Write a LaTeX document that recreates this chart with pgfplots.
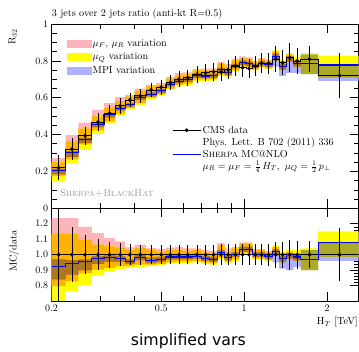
\documentclass[border=0pt]{standalone}
\usepackage{fontspec}
\newfontfamily\labelfont{DejaVu Sans}
\usepackage{pgfplots}
\pgfplotsset{compat=1.18}
\usepackage{pgfplotstable}
\usepgfplotslibrary{fillbetween}
\definecolor{cpink}{RGB}{255,180,185}
\definecolor{cyel}{RGB}{255,255,0}
\definecolor{cblu}{RGB}{176,176,255}
\definecolor{cpy}{RGB}{255,178,0}
\definecolor{cyb}{RGB}{172,170,40}
\definecolor{cpb}{RGB}{176,127,184}
\definecolor{cpyb}{RGB}{176,118,30}
\definecolor{cblue}{RGB}{0,0,255}

\pgfplotsset{
  pinkimg/.style={legend image code/.code={\fill[cpink] (0bp,-3.5bp) rectangle (24bp,3.5bp);}},
  yelimg/.style={legend image code/.code={\fill[cyel] (0bp,-3.5bp) rectangle (24bp,3.5bp);}},
  bluimg/.style={legend image code/.code={\fill[cblu] (0bp,-3.5bp) rectangle (24bp,3.5bp);}},
  dataimg/.style={legend image code/.code={\draw[black, line width=0.7bp] (0bp,0bp) -- (28bp,0bp); \fill[black] (14bp,0bp) circle[radius=1.7bp];}},
  mcimg/.style={legend image code/.code={\draw[cblue, line width=1bp] (0bp,0bp) -- (28bp,0bp);}},
}

% bin edges (const plot, value of bin to the right); mc and bands are MC/data
\pgfplotstableread{
e d mc yl yh pl ph bl bh
0.2   0.220 0.925 0.66  1.133 0.796 1.237 0.84  0.97
0.225 0.321 0.942 0.76  1.133 0.828 1.237 0.87  0.965
0.25  0.394 0.953 0.805 1.097 0.88  1.18  0.90  0.97
0.28  0.468 0.975 0.865 1.065 0.903 1.14  0.94  0.99
0.31  0.516 0.982 0.892 1.054 0.914 1.107 0.955 0.995
0.34  0.556 0.975 0.903 1.047 0.925 1.086 0.955 0.99
0.37  0.588 0.955 0.915 1.03  0.925 1.047 0.94  0.97
0.40  0.610 0.982 0.92  1.045 0.935 1.065 0.965 1.0
0.44  0.642 0.962 0.925 1.03  0.935 1.043 0.945 0.98
0.48  0.657 0.970 0.93  1.02  0.94  1.035 0.955 0.985
0.52  0.683 0.985 0.945 1.03  0.95  1.045 0.97  1.0
0.56  0.700 0.985 0.945 1.03  0.955 1.05  0.97  1.0
0.60  0.709 0.985 0.945 1.025 0.955 1.04  0.97  1.0
0.65  0.727 0.990 0.95  1.03  0.96  1.04  0.975 1.005
0.70  0.736 0.975 0.94  1.015 0.95  1.03  0.96  0.99
0.75  0.741 0.970 0.935 1.01  0.945 1.025 0.955 0.985
0.80  0.740 1.015 0.97  1.06  0.98  1.075 1.0   1.03
0.85  0.752 0.980 0.945 1.02  0.955 1.04  0.965 0.995
0.90  0.772 1.000 0.96  1.04  0.97  1.05  0.985 1.015
0.96  0.763 1.035 1.0   1.07  1.01  1.08  1.02  1.05
1.015 0.758 1.035 1.0   1.07  1.01  1.08  1.02  1.05
1.07  0.772 1.000 0.97  1.03  0.975 1.035 0.985 1.015
1.125 0.787 1.000 0.97  1.03  0.975 1.035 0.985 1.015
1.19  0.787 0.990 0.96  1.02  0.965 1.025 0.975 1.005
1.265 0.809 1.020 0.99  1.06  1.0   1.05  0.95  1.035
1.34  0.790 0.975 0.95  1.02  0.955 1.01  0.91  0.99
1.42  0.817 1.000 0.97  1.03  0.975 1.02  0.90  1.01
1.51  0.799 0.985 0.96  1.03  0.965 1.01  0.92  1.0
1.605 0.809 0.970 0.90  1.04  0.97  0.97  0.90  1.03
1.855 0.720 1.080 0.985 1.15  1.08  1.08  0.96  1.08
2.6   0.720 1.080 0.985 1.15  1.08  1.08  0.96  1.08
}\edges

\pgfplotstableread{
x d de r re
0.2121 0.220 0.068 1 0.31
0.2372 0.321 0.058 1 0.18
0.2646 0.394 0.049 1 0.125
0.2946 0.468 0.047 1 0.10
0.3247 0.516 0.044 1 0.085
0.3547 0.556 0.042 1 0.075
0.3847 0.588 0.040 1 0.068
0.4195 0.610 0.039 1 0.064
0.4596 0.642 0.040 1 0.062
0.4996 0.657 0.041 1 0.062
0.5396 0.683 0.042 1 0.062
0.5797 0.700 0.043 1 0.062
0.6245 0.709 0.044 1 0.062
0.6745 0.727 0.045 1 0.062
0.7246 0.736 0.047 1 0.064
0.7746 0.741 0.048 1 0.065
0.8246 0.740 0.049 1 0.066
0.8746 0.752 0.050 1 0.067
0.9295 0.772 0.052 1 0.068
0.9871 0.763 0.052 1 0.068
1.0421 0.758 0.053 1 0.070
1.0971 0.772 0.054 1 0.070
1.1570 0.787 0.055 1 0.070
1.2269 0.787 0.057 1 0.072
1.3020 0.809 0.069 1 0.085
1.3794 0.790 0.067 1 0.085
1.4643 0.817 0.079 1 0.097
1.5567 0.799 0.072 1 0.090
1.7255 0.809 0.070 1 0.086
2.22   0.720 0.122 1 0.17
}\pts

\begin{document}
\begin{tikzpicture}

\begin{axis}[
  scale only axis, width=306.9bp, height=184.3bp,
  at={(51.6bp,143.7bp)}, anchor=south west,
  xmode=log, xmin=0.2, xmax=2.6,
  axis line style={line width=0.8bp},
  major tick style={line width=0.6bp, black},
  minor tick style={line width=0.6bp, black},
  major tick length=9bp, minor tick length=5bp,
  xtick={0.2,0.5,1,2},
  minor xtick={0.3,0.4,0.6,0.7,0.8,0.9},
  ticklabel style={font=\fontsize{10}{12}\selectfont},
  ymin=0, ymax=1, ytick={0,0.2,0.4,0.6,0.8,1}, minor y tick num=3,
  xticklabels={},
  ylabel={R$_{32}$},
  ylabel style={at={(axis description cs:-0.127,0.93)}, anchor=center, font=\fontsize{10.2}{12}\selectfont},
  legend style={at={(axis description cs:0.049,0.93)}, anchor=north west,
    draw=none, fill=none, inner sep=0pt,
    font=\fontsize{10.2}{12}\selectfont,
    nodes={inner sep=1.5bp, text height=7.5bp, text depth=2.5bp},
    row sep=0.5bp},
  legend cell align=left,
]
% band edges (band = MC/data band times data)
\addplot[name path=ph, draw=none, const plot, forget plot] table[x=e, y expr=\thisrow{ph}*\thisrow{d}] {\edges};
\addplot[name path=pl, draw=none, const plot, forget plot] table[x=e, y expr=\thisrow{pl}*\thisrow{d}] {\edges};
\addplot[name path=yh, draw=none, const plot, forget plot] table[x=e, y expr=\thisrow{yh}*\thisrow{d}] {\edges};
\addplot[name path=yl, draw=none, const plot, forget plot] table[x=e, y expr=\thisrow{yl}*\thisrow{d}] {\edges};
\addplot[name path=bh, draw=none, const plot, forget plot] table[x=e, y expr=\thisrow{bh}*\thisrow{d}] {\edges};
\addplot[name path=bl, draw=none, const plot, forget plot] table[x=e, y expr=\thisrow{bl}*\thisrow{d}] {\edges};
% overlaps of the bands
\addplot[name path=pyl, draw=none, const plot, forget plot] table[x=e, y expr={max(\thisrow{pl},\thisrow{yl})*\thisrow{d}}] {\edges};
\addplot[name path=pyh, draw=none, const plot, forget plot] table[x=e, y expr={max(min(\thisrow{ph},\thisrow{yh}),max(\thisrow{pl},\thisrow{yl}))*\thisrow{d}}] {\edges};
\addplot[name path=ybl, draw=none, const plot, forget plot] table[x=e, y expr={max(\thisrow{bl},\thisrow{yl})*\thisrow{d}}] {\edges};
\addplot[name path=ybh, draw=none, const plot, forget plot] table[x=e, y expr={max(min(\thisrow{bh},\thisrow{yh}),max(\thisrow{bl},\thisrow{yl}))*\thisrow{d}}] {\edges};
\addplot[name path=pbl, draw=none, const plot, forget plot] table[x=e, y expr={max(\thisrow{pl},\thisrow{bl})*\thisrow{d}}] {\edges};
\addplot[name path=pbh, draw=none, const plot, forget plot] table[x=e, y expr={max(min(\thisrow{ph},\thisrow{bh}),max(\thisrow{pl},\thisrow{bl}))*\thisrow{d}}] {\edges};
\addplot[name path=al, draw=none, const plot, forget plot] table[x=e, y expr={max(\thisrow{pl},\thisrow{yl},\thisrow{bl})*\thisrow{d}}] {\edges};
\addplot[name path=ah, draw=none, const plot, forget plot] table[x=e, y expr={max(min(\thisrow{ph},\thisrow{yh},\thisrow{bh}),max(\thisrow{pl},\thisrow{yl},\thisrow{bl}))*\thisrow{d}}] {\edges};
\addplot[fill=cpink, draw=none, forget plot] fill between[of=ph and pl];
\addplot[fill=cyel, draw=none, forget plot] fill between[of=yh and yl];
\addplot[fill=cblu, draw=none, forget plot] fill between[of=bh and bl];
\addplot[fill=cpy, draw=none, forget plot] fill between[of=pyh and pyl];
\addplot[fill=cyb, draw=none, forget plot] fill between[of=ybh and ybl];
\addplot[fill=cpb, draw=none, forget plot] fill between[of=pbh and pbl];
\addplot[fill=cpyb, draw=none, forget plot] fill between[of=ah and al];
% MC and data histograms
\addplot[cblue, line width=1.1bp, const plot, forget plot] table[x=e, y expr=\thisrow{mc}*\thisrow{d}] {\edges};
\addplot[black, line width=0.8bp, const plot, forget plot] table[x=e, y=d] {\edges};
\addplot[black, only marks, mark=*, mark size=1.7bp, forget plot,
  error bars/.cd, y dir=both, y explicit, error mark=none,
  error bar style={line width=0.7bp, black}] table[x=x, y=d, y error=de] {\pts};
% legend
\addlegendimage{pinkimg}
\addlegendentry{$\mu_F$, $\mu_R$ variation}
\addlegendimage{yelimg}
\addlegendentry{$\mu_Q$ variation}
\addlegendimage{bluimg}
\addlegendentry{MPI variation}
\node[anchor=west, inner sep=0pt, text=black!40, font=\fontsize{10}{12}\selectfont] at (axis description cs:0.027,0.078) {\textsc{Sherpa+BlackHat}};
\end{axis}

\begin{axis}[
  scale only axis, width=306.9bp, height=92.7bp,
  at={(51.6bp,51bp)}, anchor=south west,
  xmode=log, xmin=0.2, xmax=2.6,
  axis line style={line width=0.8bp},
  major tick style={line width=0.6bp, black},
  minor tick style={line width=0.6bp, black},
  major tick length=9bp, minor tick length=5bp,
  xtick={0.2,0.5,1,2},
  minor xtick={0.3,0.4,0.6,0.7,0.8,0.9},
  ticklabel style={font=\fontsize{10}{12}\selectfont},
  ymin=0.7, ymax=1.3, ytick={0.8,0.9,1.0,1.1,1.2}, minor y tick num=4,
  yticklabel style={/pgf/number format/fixed, /pgf/number format/fixed zerofill, /pgf/number format/precision=1},
  xticklabels={0.2,0.5,1,2},
  ylabel={MC/data},
  ylabel style={at={(axis description cs:-0.1225,0.539)}, anchor=center, font=\fontsize{10.2}{12}\selectfont},
  xlabel={H$_T$ [TeV]},
  xlabel style={at={(axis description cs:0.998,-0.172)}, anchor=north east, inner sep=0pt, font=\fontsize{10.2}{12}\selectfont},
  legend style={at={(axis description cs:0.392,1.909)}, anchor=north west,
    draw=none, fill=none, inner sep=0pt,
    font=\fontsize{10.2}{12}\selectfont,
    nodes={inner sep=1.5bp, text height=7.5bp},
    row sep=0bp},
  legend cell align=left,
]
\addplot[name path=rph, draw=none, const plot, forget plot] table[x=e, y=ph] {\edges};
\addplot[name path=rpl, draw=none, const plot, forget plot] table[x=e, y=pl] {\edges};
\addplot[name path=ryh, draw=none, const plot, forget plot] table[x=e, y=yh] {\edges};
\addplot[name path=ryl, draw=none, const plot, forget plot] table[x=e, y=yl] {\edges};
\addplot[name path=rbh, draw=none, const plot, forget plot] table[x=e, y=bh] {\edges};
\addplot[name path=rbl, draw=none, const plot, forget plot] table[x=e, y=bl] {\edges};
\addplot[name path=rpyl, draw=none, const plot, forget plot] table[x=e, y expr={max(\thisrow{pl},\thisrow{yl})}] {\edges};
\addplot[name path=rpyh, draw=none, const plot, forget plot] table[x=e, y expr={max(min(\thisrow{ph},\thisrow{yh}),max(\thisrow{pl},\thisrow{yl}))}] {\edges};
\addplot[name path=rybl, draw=none, const plot, forget plot] table[x=e, y expr={max(\thisrow{bl},\thisrow{yl})}] {\edges};
\addplot[name path=rybh, draw=none, const plot, forget plot] table[x=e, y expr={max(min(\thisrow{bh},\thisrow{yh}),max(\thisrow{bl},\thisrow{yl}))}] {\edges};
\addplot[name path=rpbl, draw=none, const plot, forget plot] table[x=e, y expr={max(\thisrow{pl},\thisrow{bl})}] {\edges};
\addplot[name path=rpbh, draw=none, const plot, forget plot] table[x=e, y expr={max(min(\thisrow{ph},\thisrow{bh}),max(\thisrow{pl},\thisrow{bl}))}] {\edges};
\addplot[name path=ral, draw=none, const plot, forget plot] table[x=e, y expr={max(\thisrow{pl},\thisrow{yl},\thisrow{bl})}] {\edges};
\addplot[name path=rah, draw=none, const plot, forget plot] table[x=e, y expr={max(min(\thisrow{ph},\thisrow{yh},\thisrow{bh}),max(\thisrow{pl},\thisrow{yl},\thisrow{bl}))}] {\edges};
\addplot[fill=cpink, draw=none, forget plot] fill between[of=rph and rpl];
\addplot[fill=cyel, draw=none, forget plot] fill between[of=ryh and ryl];
\addplot[fill=cblu, draw=none, forget plot] fill between[of=rbh and rbl];
\addplot[fill=cpy, draw=none, forget plot] fill between[of=rpyh and rpyl];
\addplot[fill=cyb, draw=none, forget plot] fill between[of=rybh and rybl];
\addplot[fill=cpb, draw=none, forget plot] fill between[of=rpbh and rpbl];
\addplot[fill=cpyb, draw=none, forget plot] fill between[of=rah and ral];
\draw[black, line width=0.8bp] (axis cs:0.2,1) -- (axis cs:2.6,1);
\addplot[cblue, line width=1.1bp, const plot, forget plot] table[x=e, y=mc] {\edges};
\addplot[black, only marks, mark=*, mark size=1.7bp, forget plot,
  error bars/.cd, y dir=both, y explicit, error mark=none,
  error bar style={line width=0.7bp, black}] table[x=x, y=r, y error=re] {\pts};
% second legend
\addlegendimage{dataimg}
\addlegendentry{CMS data\rule[-2.5bp]{0pt}{1bp}}
\addlegendimage{empty legend}
\addlegendentry{Phys. Lett. B 702 (2011) 336\rule[-9.5bp]{0pt}{1bp}}
\addlegendimage{mcimg}
\addlegendentry{\textsc{Sherpa} MC@NLO\rule[-3.5bp]{0pt}{1bp}}
\addlegendimage{empty legend}
\addlegendentry{$\mu_R=\mu_F=\frac{1}{4}\,H_T$,\enspace $\mu_Q=\frac{1}{2}\,p_\perp$}
\end{axis}

\node[anchor=base west, inner sep=0pt, font=\fontsize{10.2}{12}\selectfont] at (51.6bp,335.5bp) {3 jets over 2 jets ratio (anti-kt R=0.5)};
\node[font=\labelfont\fontsize{15.8}{19}\selectfont] at (188.3bp,11bp) {simplified vars};
\pgfresetboundingbox
\path[use as bounding box] (0bp,0bp) rectangle (359bp,352bp);
\end{tikzpicture}
\end{document}
